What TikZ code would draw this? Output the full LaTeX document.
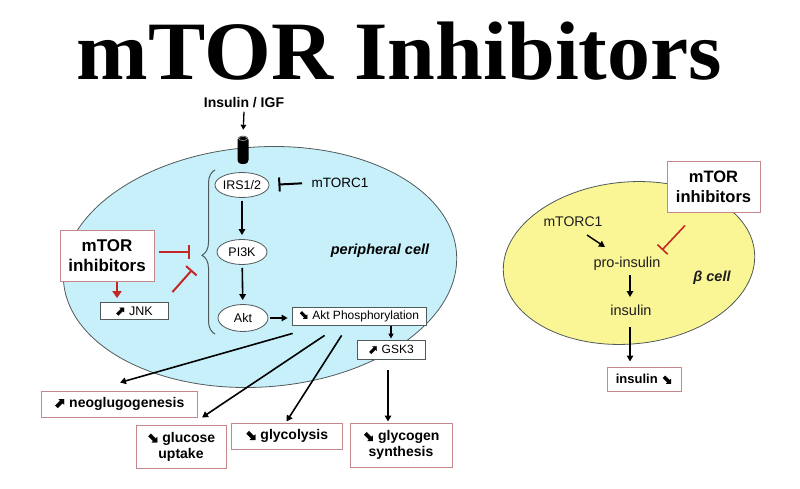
\documentclass[tikz,border=0pt]{standalone}
\usepackage{fontspec}
\setmainfont{Liberation Sans}
\newfontfamily\titlefont{Liberation Serif}
\newfontfamily\symfont[FakeBold=1.5]{DejaVu Sans}
\usetikzlibrary{arrows.meta,decorations.pathreplacing,shapes.geometric}
\definecolor{cellblue}{RGB}{200,240,250}
\definecolor{cellyellow}{RGB}{250,246,150}
\definecolor{inhred}{RGB}{196,40,36}
\definecolor{boxpink}{RGB}{196,136,140}
\definecolor{edgegray}{RGB}{80,90,90}
\definecolor{txt}{RGB}{30,30,30}
\newcommand{\arrNE}{{\symfont ⬈}}
\newcommand{\arrSE}{{\symfont ⬊}}
\newcommand{\fsz}[2]{\fontsize{#1}{#2}\selectfont}
\begin{document}
\begin{tikzpicture}[x=1pt,y=-1pt,
  mol/.style={ellipse, draw=edgegray, line width=0.8pt, fill=white, minimum width=50pt, minimum height=25pt, inner sep=0pt, font=\fsz{12.5}{15}},
  ibox/.style={rectangle, draw=edgegray, line width=0.8pt, fill=white, inner sep=0pt, font=\fsz{12}{14}},
  obox/.style={rectangle, draw=boxpink, line width=1pt, fill=white, inner sep=0pt, align=center, font=\bfseries\fsz{14}{16}},
  ibig/.style={obox, font=\bfseries\fsz{17}{20}},
  arr/.style={draw=black, line width=1.6pt, -{Triangle[length=6pt,width=6.5pt]}},
  inh/.style={line width=2pt, -{Bar[width=14pt]}},
  redinh/.style={inh, draw=inhred},
  redarr/.style={draw=inhred, line width=2pt, -{Triangle[length=7pt,width=9pt]}},
  lbl/.style={font=\fsz{14.5}{17}, text=txt}]
\useasboundingbox (0,0) rectangle (800,489);
\fill[white] (0,0) rectangle (800,489);

% title
\node[font=\titlefont\bfseries\fsz{83}{83}, anchor=base, inner sep=0] (title) at (399.5,80) {\scalebox{1.035}[1]{mTOR Inhibitors}};

% cells
\node[ellipse, draw=edgegray, line width=0.8pt, fill=cellblue, minimum width=394pt, minimum height=240pt, inner sep=0, rotate=4] (pcell) at (260,267) {};
\node[ellipse, draw=edgegray, line width=0.8pt, fill=cellyellow, minimum width=252pt, minimum height=162pt, inner sep=0, rotate=5] (bcell) at (629,263) {};

% receptor and ligand
\node[fill=black, rounded corners=4pt, minimum width=11pt, minimum height=28pt, inner sep=0] (rec) at (243,150) {};
\draw[gray!70, line width=0.6pt] (243,138.5) ellipse [x radius=4.5, y radius=2];
\node[font=\bfseries\fsz{14}{16}] (ins) at (244,103) {Insulin / IGF};
\draw[arr, line width=1.3pt, -{Triangle[length=5pt,width=5.5pt]}, shorten >=6pt] (ins.south) -- (rec.north);

% pathway
\node[mol] (irs) at (242,185) {IRS1/2};
\node[mol] (pi3k) at (242,252) {PI3K};
\node[mol, minimum height=27pt] (akt) at (243,318) {Akt};
\draw[arr, shorten <=3pt, shorten >=4pt] (irs) -- (pi3k);
\draw[arr, shorten <=3pt, shorten >=4pt] (pi3k) -- (akt);

\node[font=\fsz{13.5}{16}] (mtl) at (340,183) {mTORC1};
\draw[inh, shorten >=9pt, shorten <=6pt] (mtl.west) -- (irs.east);

\node[font=\bfseries\itshape\fsz{14.5}{17}] (pc) at (380,251) {peripheral cell};

\draw[edgegray, line width=1pt, decorate, decoration={brace, amplitude=13pt, aspect=0.48}] (215,334) -- (215,170);
\coordinate (inhA) at (190,252);
\coordinate (inhB) at (192,270);

\node[ibig, minimum width=94pt, minimum height=51pt] (mil) at (107,255.5) {mTOR\\inhibitors};
\node[ibox, minimum width=68pt, minimum height=17pt, font=\fsz{12.5}{14}] (jnk) at (134,311) {\arrNE\ JNK};
\draw[redarr, shorten >=4pt] ([shift={(10,0)}]mil.south) -- ([shift={(-17,0)}]jnk.north);
\draw[redinh] ([shift={(4,-3.5)}]mil.east) -- (inhA);
\draw[redinh] ([shift={(4,-10)}]jnk.north east) -- (inhB);

\node[ibox, minimum width=134pt, minimum height=18pt] (aktp) at (359,316) {\arrSE\ Akt Phosphorylation};
\draw[arr, line width=1.4pt, shorten <=2pt, shorten >=4pt] (akt.east) -- (aktp.west |- akt.east);
\node[ibox, minimum width=68pt, minimum height=19pt] (gsk) at (391,349.5) {\arrNE\ GSK3};
\draw[arr, line width=1.3pt, -{Triangle[length=5pt,width=5pt]}, shorten <=1pt, shorten >=1pt] (gsk.north |- aktp.south) -- (gsk.north);

% outcomes
\node[obox, minimum width=156pt, minimum height=26pt] (neo) at (119,404) {\arrNE\ neoglugogenesis};
\node[obox, minimum width=90pt, minimum height=43pt] (glu) at (181,446.5) {\arrSE\ glucose\\uptake};
\node[obox, minimum width=111pt, minimum height=26pt] (gly) at (286.5,436) {\arrSE\ glycolysis};
\node[obox, minimum width=102pt, minimum height=44pt] (glyc) at (401,445) {\arrSE\ glycogen\\synthesis};
\coordinate (g4) at (gsk.south |- glyc.north);

\draw[arr] ([shift={(1,8)}]aktp.south west) -- ([shift={(1,-8)}]neo.north);
\draw[arr] ([shift={(33,10)}]aktp.south west) -- ([shift={(21,-7)}]glu.north);
\draw[arr] ([shift={(50,10)}]aktp.south west) -- ([shift={(0,-1)}]gly.north);
\draw[arr] ([shift={(-3,11)}]gsk.south) -- ([shift={(-3,-1)}]g4);

% beta cell
\node[ibig, minimum width=93pt, minimum height=50pt, font=\bfseries\fsz{16.5}{20}] (mir) at (713.5,187) {mTOR\\inhibitors};
\node[font=\fsz{14}{16}, text=txt] (mtr) at (573,222) {mTORC1};
\node[lbl] (pro) at (627,264) {pro-insulin};
\node[lbl] (insr) at (631,310) {insulin};
\node[font=\bfseries\itshape\fsz{14.5}{17}, text=txt] (beta) at (712,278) {β cell};
\node[obox, minimum width=74pt, minimum height=24pt, font=\bfseries\fsz{13}{15}] (insbox) at (644,379) {insulin \arrSE};

\draw[arr, line width=1.4pt] ([shift={(14,13)}]mtr.center) -- ([shift={(-22,-17)}]pro.center);
\draw[redinh, line width=1.6pt] ([shift={(-28.5,13)}]mir.south) -- ([shift={(35,-14)}]pro.center);
\draw[arr, line width=1.4pt] ([shift={(3,11)}]pro.center) -- ([shift={(-1,-13)}]insr.center);
\draw[arr] ([shift={(-1,17)}]insr.center) -- ([shift={(-14,-5)}]insbox.north);
\end{tikzpicture}
\end{document}
